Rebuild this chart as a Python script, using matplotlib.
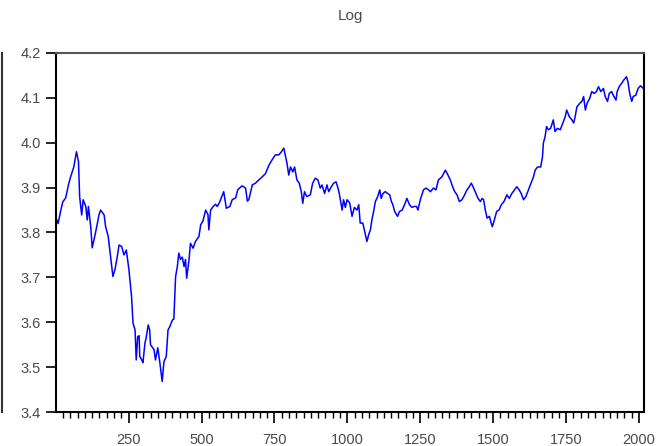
import matplotlib
matplotlib.use("Agg")
import matplotlib.pyplot as plt
from matplotlib.lines import Line2D
from matplotlib.ticker import MultipleLocator, FormatStrFormatter

# observation index and log level of the series
obs = [1, 8, 16, 24, 34, 45, 51, 62, 71, 78, 82, 89, 94, 103, 108, 112, 120, 125,
       135, 143, 148, 154, 166, 171, 180, 188, 196, 203, 211, 217, 226, 234, 242,
       251, 260, 265, 272, 276, 281, 286, 288, 295, 299, 306, 310, 317, 322, 325,
       337, 342, 350, 357, 365, 371, 379, 385, 391, 400, 405, 411, 417, 422, 428,
       434, 440, 445, 449, 457, 462, 471, 479, 491, 497, 505, 514, 522, 525, 531,
       540, 548, 554, 563, 568, 576, 585, 597, 605, 617, 624, 639, 651, 657, 662,
       674, 685, 696, 708, 719, 731, 742, 753, 765, 774, 782, 788, 793, 799, 805,
       813, 819, 827, 835, 842, 847, 853, 861, 873, 881, 890, 899, 907, 913, 922,
       930, 936, 945, 953, 961, 968, 973, 982, 987, 993, 999, 1008, 1016, 1024,
       1033, 1039, 1044, 1053, 1058, 1067, 1073, 1079, 1084, 1090, 1096, 1104,
       1111, 1116, 1122, 1130, 1138, 1145, 1151, 1156, 1162, 1172, 1179, 1188,
       1196, 1204, 1213, 1221, 1229, 1237, 1242, 1250, 1261, 1270, 1278, 1285,
       1295, 1304, 1312, 1324, 1336, 1345, 1353, 1361, 1368, 1376, 1384, 1393,
       1402, 1410, 1418, 1425, 1433, 1441, 1448, 1456, 1462, 1467, 1473, 1479,
       1487, 1493, 1497, 1504, 1512, 1520, 1528, 1537, 1547, 1555, 1564, 1573,
       1581, 1589, 1596, 1604, 1612, 1621, 1630, 1638, 1644, 1652, 1663, 1669,
       1672, 1678, 1683, 1689, 1697, 1706, 1712, 1720, 1730, 1739, 1747, 1752,
       1761, 1770, 1776, 1781, 1787, 1797, 1804, 1810, 1816, 1822, 1831, 1838,
       1846, 1854, 1861, 1869, 1878, 1884, 1892, 1898, 1906, 1914, 1921, 1925,
       1932, 1941, 1948, 1957, 1962, 1968, 1975, 1980, 1989, 1997, 2005, 2015]
log_level = [3.833, 3.820, 3.845, 3.868, 3.877, 3.910, 3.924, 3.946, 3.980, 3.958,
             3.880, 3.839, 3.873, 3.858, 3.828, 3.858, 3.813, 3.766, 3.795, 3.821,
             3.839, 3.850, 3.839, 3.813, 3.791, 3.746, 3.702, 3.717, 3.746, 3.772,
             3.769, 3.750, 3.761, 3.717, 3.657, 3.598, 3.583, 3.516, 3.568, 3.570,
             3.524, 3.516, 3.510, 3.554, 3.565, 3.594, 3.583, 3.550, 3.539, 3.516,
             3.543, 3.510, 3.468, 3.512, 3.524, 3.583, 3.590, 3.605, 3.607, 3.702,
             3.724, 3.754, 3.740, 3.745, 3.724, 3.740, 3.698, 3.739, 3.776, 3.765,
             3.780, 3.791, 3.817, 3.826, 3.850, 3.840, 3.806, 3.850, 3.858, 3.863,
             3.858, 3.869, 3.878, 3.891, 3.854, 3.858, 3.873, 3.877, 3.895, 3.904,
             3.899, 3.870, 3.873, 3.906, 3.910, 3.917, 3.924, 3.931, 3.950, 3.962,
             3.973, 3.973, 3.980, 3.988, 3.970, 3.954, 3.928, 3.946, 3.935, 3.946,
             3.917, 3.910, 3.891, 3.865, 3.891, 3.880, 3.884, 3.910, 3.921, 3.917,
             3.899, 3.906, 3.887, 3.906, 3.891, 3.902, 3.910, 3.913, 3.899, 3.884,
             3.850, 3.873, 3.856, 3.873, 3.866, 3.836, 3.856, 3.850, 3.862, 3.821,
             3.821, 3.806, 3.780, 3.795, 3.806, 3.828, 3.847, 3.869, 3.880, 3.895,
             3.876, 3.887, 3.891, 3.887, 3.884, 3.869, 3.862, 3.847, 3.836, 3.847,
             3.850, 3.862, 3.876, 3.862, 3.856, 3.858, 3.858, 3.850, 3.873, 3.895,
             3.899, 3.895, 3.891, 3.899, 3.895, 3.917, 3.924, 3.939, 3.928, 3.917,
             3.902, 3.891, 3.884, 3.869, 3.873, 3.884, 3.895, 3.902, 3.910, 3.899,
             3.887, 3.876, 3.869, 3.876, 3.873, 3.850, 3.832, 3.836, 3.821, 3.813,
             3.828, 3.847, 3.850, 3.862, 3.869, 3.884, 3.876, 3.887, 3.895, 3.902,
             3.895, 3.887, 3.873, 3.880, 3.895, 3.910, 3.924, 3.939, 3.946, 3.946,
             3.969, 3.999, 4.014, 4.036, 4.029, 4.032, 4.051, 4.025, 4.032, 4.029,
             4.044, 4.058, 4.073, 4.058, 4.051, 4.044, 4.058, 4.080, 4.088, 4.092,
             4.103, 4.073, 4.088, 4.099, 4.114, 4.110, 4.114, 4.125, 4.114, 4.121,
             4.103, 4.092, 4.110, 4.114, 4.103, 4.095, 4.114, 4.125, 4.133, 4.140,
             4.147, 4.136, 4.110, 4.092, 4.103, 4.106, 4.121, 4.127, 4.121]

title = "Log"
x_ticks = [250, 500, 750, 1000, 1250, 1500, 1750, 2000]

plt.rcParams['font.family'] = ['Liberation Sans', 'DejaVu Sans']

fig = plt.figure(figsize=(6.63, 4.46), dpi=100)
ax = fig.add_axes([0.0845, 0.0762, 0.8868, 0.805])

ax.plot(obs, log_level, color='#0000ff', linewidth=1.1)

ax.set_xlim(1, 2017)
ax.set_ylim(3.4, 4.2)
ax.set_xticks(x_ticks)
ax.xaxis.set_minor_locator(MultipleLocator(25))
ax.yaxis.set_major_locator(MultipleLocator(0.1))
ax.yaxis.set_major_formatter(FormatStrFormatter('%.1f'))

ax.tick_params(axis='both', which='major', direction='out', labelsize=10.5,
               labelcolor='#4a4a4a', color='black', width=1.2)
ax.tick_params(axis='x', which='major', length=8, pad=7)
ax.tick_params(axis='y', which='major', length=7, pad=4)
ax.tick_params(axis='x', which='minor', direction='out', length=4, width=1.0)
ax.tick_params(top=False, right=False)

for side in ['left', 'bottom', 'right']:
    ax.spines[side].set_linewidth(1.5)
    ax.spines[side].set_color('black')
ax.spines['top'].set_linewidth(1.5)
ax.spines['top'].set_color('#555555')

ax.set_title(title, fontsize=11, color='#4a4a4a', pad=24)

# edge of the neighbouring panel on the left
fig.add_artist(Line2D([2 / 663, 2 / 663], [1 - 53 / 446, 1 - 412 / 446],
                      transform=fig.transFigure, color='#333333', linewidth=1.5))

fig.savefig('out.png', dpi=100)
